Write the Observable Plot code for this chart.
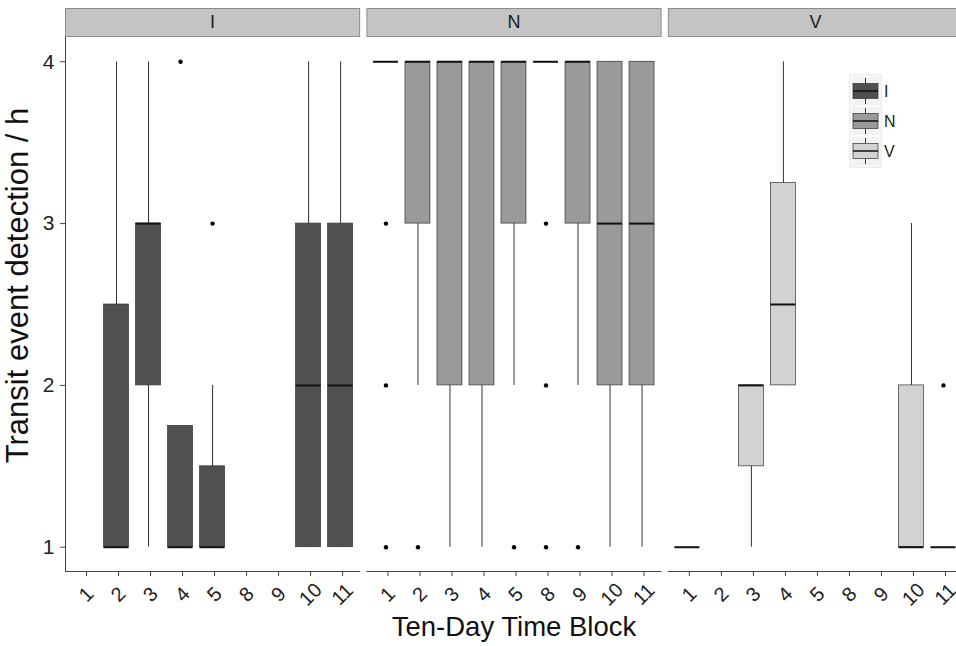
<!DOCTYPE html>
<html><head><meta charset="utf-8">
<script src="https://cdn.jsdelivr.net/npm/d3@7"></script>
<script src="https://cdn.jsdelivr.net/npm/@observablehq/plot@0.6"></script>
<style>
html,body{margin:0;padding:0;background:#fff;overflow:hidden}
#wrap{position:relative;width:956px;height:646px;overflow:hidden;font-family:"Liberation Sans",Arial,sans-serif;background:#fff}
#wrap svg{max-width:none !important}
#wrap svg.legend{position:absolute;left:0;top:0}
</style></head><body><div id="wrap"></div>
<script>
// ---- data ----
const groups = ["I", "N", "V"];
const blocks = ["1", "2", "3", "4", "5", "8", "9", "10", "11"];
const fills = ["#505050", "#9a9a9a", "#d2d2d2"];
const yTicks = [1, 2, 3, 4];
const xTitle = "Ten-Day Time Block";
const yTitle = "Transit event detection / h";

const boxGroup = ["I","I","I","I","I","I", "N","N","N","N","N","N","N","N","N", "V","V","V","V","V"];
const boxBlock = ["2","3","4","5","10","11", "1","2","3","4","5","8","9","10","11", "1","3","4","10","11"];
const whiskerLow    = [1, 1, 1,    1,   1, 1,  4, 2, 1, 1, 2, 4, 2, 1, 1,  1, 1,   2,    1, 1];
const lowerQuartile = [1, 2, 1,    1,   1, 1,  4, 3, 2, 2, 3, 4, 3, 2, 2,  1, 1.5, 2,    1, 1];
const median        = [1, 3, 1,    1,   2, 2,  4, 4, 4, 4, 4, 4, 4, 3, 3,  1, 2,   2.5,  1, 1];
const upperQuartile = [2.5, 3, 1.75, 1.5, 3, 3,  4, 4, 4, 4, 4, 4, 4, 4, 4,  1, 2,   3.25, 2, 1];
const whiskerHigh   = [4, 4, 1.75, 2,   4, 4,  4, 4, 4, 4, 4, 4, 4, 4, 4,  1, 2,   4,    3, 1];

const outlierGroup = ["I","I","N","N","N","N","N","N","N","N","N","V"];
const outlierBlock = ["4","5","1","1","1","2","5","8","8","8","9","11"];
const outlierValue = [4, 3, 3, 2, 1, 1, 1, 3, 2, 1, 1, 2];

// ---- tables ----
const boxes = boxGroup.map((g, i) => ({
  group: g, block: boxBlock[i], lo: whiskerLow[i], q1: lowerQuartile[i],
  med: median[i], q3: upperQuartile[i], hi: whiskerHigh[i]
}));
const outliers = outlierGroup.map((g, i) => ({group: g, block: outlierBlock[i], value: outlierValue[i]}));

const font = '"Liberation Sans", Arial, sans-serif';
const plotH = 646, mTop = 37, mBottom = 75;
const innerH = plotH - mTop - mBottom;

const chart = Plot.plot({
  width: 962,
  height: plotH,
  marginTop: mTop,
  marginBottom: mBottom,
  marginLeft: 65,
  marginRight: 0,
  style: {fontFamily: font, background: "white", color: "#222", overflow: "visible", maxWidth: "none"},
  fx: {domain: groups, paddingInner: 7.3 / 301.3, paddingOuter: 0, round: false, axis: null, label: null},
  x: {domain: blocks, paddingInner: 0.22, paddingOuter: 0.204, round: false, label: null},
  y: {domain: [0.85, 4.15], label: null},
  color: {type: "ordinal", domain: groups, range: fills},
  marks: [
    // facet strips
    Plot.frame({fill: "#c4c4c4", stroke: "#8c8c8c", strokeWidth: 1, insetTop: -29, insetBottom: innerH + 1}),
    Plot.text(groups, {fx: d => d, text: d => d, frameAnchor: "top", lineAnchor: "middle", dy: -15, fontSize: 18, fill: "#1a1a1a"}),
    // axes
    Plot.axisY({ticks: yTicks, tickFormat: d3.format("d"), tickSize: 5, tickPadding: 6, fontSize: 21, stroke: "#444", fill: "#222", label: null}),
    Plot.axisX({tickRotate: -45, textAnchor: "middle", tickSize: 5, tickPadding: 18, dx: 2, fontSize: 20, stroke: "#444", fill: "#222", label: null}),
    Plot.frame({anchor: "bottom", stroke: "#444", strokeWidth: 1}),
    Plot.frame({anchor: "left", facetAnchor: "left", stroke: "#444", strokeWidth: 1}),
    // boxplots
    Plot.ruleX(boxes, {fx: "group", x: "block", y1: "lo", y2: "hi", stroke: "#333", strokeWidth: 1}),
    Plot.barY(boxes, {fx: "group", x: "block", y1: "q1", y2: "q3", fill: "group", stroke: "#333", strokeWidth: 0.7}),
    Plot.tickY(boxes, {fx: "group", x: "block", y: "med", stroke: "#111", strokeWidth: 2}),
    Plot.dot(outliers, {fx: "group", x: "block", y: "value", r: 2.2, fill: "#000", stroke: null}),
    // axis titles
    Plot.text([yTitle], {fx: () => "I", text: d => d, frameAnchor: "left", textAnchor: "middle", lineAnchor: "middle", rotate: -90, dx: -47, dy: -19, fontSize: 31, fill: "#111"}),
    Plot.text([xTitle], {fx: () => "N", text: d => d, frameAnchor: "bottom", textAnchor: "middle", lineAnchor: "middle", dy: 56, fontSize: 27.5, fill: "#111"})
  ]
});

const wrap = document.getElementById("wrap");
wrap.appendChild(chart);

// ---- legend (drawn in the V panel area) ----
const lg = d3.select(wrap).append("svg").attr("class", "legend")
  .attr("width", 956).attr("height", 646)
  .style("pointer-events", "none");
const lx = 851, ly = 76, key = 30, kw = 29;
lg.append("rect").attr("x", lx - 1).attr("y", ly - 1).attr("width", kw + 2).attr("height", key * groups.length + 2)
  .attr("fill", "#f4f4f4").attr("stroke", "#dcdcdc");
groups.forEach((g, i) => {
  const y0 = ly + i * key;
  const cx = lx + kw / 2;
  const k = lg.append("g");
  k.append("rect").attr("x", lx).attr("y", y0).attr("width", kw).attr("height", key)
    .attr("fill", "#f2f2f2").attr("stroke", "#ffffff").attr("stroke-width", 1);
  k.append("line").attr("x1", cx).attr("x2", cx).attr("y1", y0 + 2).attr("y2", y0 + key - 2)
    .attr("stroke", "#333").attr("stroke-width", 1);
  k.append("rect").attr("x", lx + 2).attr("y", y0 + 7.5).attr("width", kw - 4).attr("height", 15)
    .attr("fill", fills[i]).attr("stroke", "#333").attr("stroke-width", 0.7);
  k.append("line").attr("x1", lx + 2).attr("x2", lx + kw - 2).attr("y1", y0 + 15).attr("y2", y0 + 15)
    .attr("stroke", "#111").attr("stroke-width", 1.5);
  k.append("text").attr("x", lx + kw + 4).attr("y", y0 + key / 2).attr("dy", "0.36em")
    .attr("font-family", font).attr("font-size", 16).attr("fill", "#222").text(g);
});
</script>
</body></html>
